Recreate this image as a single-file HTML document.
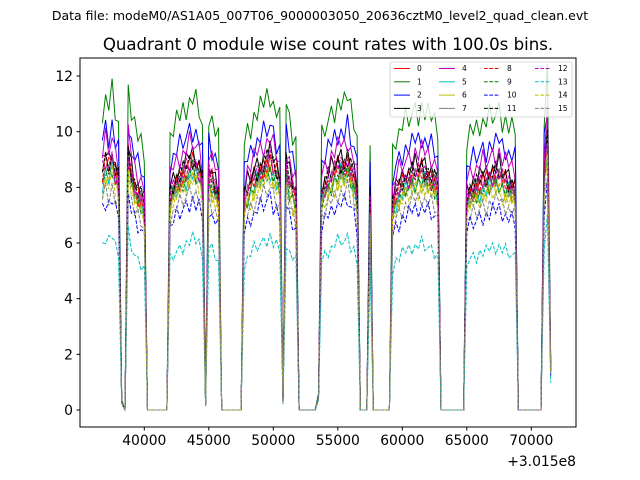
<!DOCTYPE html>
<html><head><meta charset="utf-8"><style>
body{margin:0;background:#fff;}
svg{display:block;font-family:"DejaVu Sans","Liberation Sans",sans-serif;}
</style></head><body>
<svg id="chart" width="640" height="480" viewBox="0 0 640 480">
<rect width="640" height="480" fill="#fff"/>
<text x="320" y="20" font-size="12.5" text-anchor="middle">Data file: modeM0/AS1A05_007T06_9000003050_20636cztM0_level2_quad_clean.evt</text>
<text x="328" y="50" font-size="16.6" text-anchor="middle">Quadrant 0 module wise count rates with 100.0s bins.</text>
<g id="series"></g>
<rect x="80" y="58" width="496" height="369" fill="none" stroke="#000" stroke-width="1"/>
<g id="xticks"></g>
<g id="yticks"></g>
<text x="576" y="466" font-size="13.9" text-anchor="end">+3.015e8</text>
<g id="legend"></g>
</svg>
<script>
const t0 = 36750, step = 250;
const baseLevel = [8.8,9.2,9.0,9.3,8.8,8.5,0.3,0,9.4,8.8,8.3,8.0,7.9,7.6,
0,0,0,0,0,0,0,
8.0,8.3,8.5,8.6,8.8,8.9,9.1,9.2,9.0,8.9,8.4,0.2,8.8,8.5,8.3,8.0,
0,0,0,0,0,0,0,
7.8,8.2,8.4,8.6,8.8,8.9,9.0,9.2,9.3,9.0,8.8,8.5,0.3,9.0,8.5,8.2,7.9,
0,0,0,0,0,0,0.5,
8.0,8.3,8.5,8.7,8.9,9.0,9.1,9.0,9.2,8.9,8.6,8.0,
0,0,0,7.8,0,0,0,0,0,0,
7.6,8.0,8.2,8.4,8.5,8.6,8.7,8.8,8.8,8.9,8.8,8.7,8.6,8.5,8.3,
0,0,0,0,0,0,0,0,
7.9,8.1,8.2,8.3,8.4,8.5,8.5,8.6,8.7,8.7,8.8,8.6,8.5,8.4,8.3,8.2,
0,0,0,0,0,0,0,0,
8.8,10.0,1.5];
const channelFactor = [0.97,1.22,1.1,1.0,1.05,0.93,0.92,0.95,0.96,0.93,0.82,0.98,0.97,0.67,0.9,0.86];
const jitter = [0.02,-0.03,0.04,-0.01,0.03,-0.04,0.01,-0.02,0.05,-0.03,0.0,0.03,-0.05];
const channels = ["0","1","2","3","4","5","6","7","8","9","10","11","12","13","14","15"];
const colors = ["#ff0000","#008000","#0000ff","#000000","#bf00bf","#00bfbf","#bfbf00","#808080","#ff0000","#008000","#0000ff","#000000","#bf00bf","#00bfbf","#bfbf00","#808080"];
const xTicks = [40000,45000,50000,55000,60000,65000,70000];
const yTicks = [0,2,4,6,8,10,12];

const NS="http://www.w3.org/2000/svg";
const xs = v => 144.3 + (v-40000)*0.0129;
const ys = v => 410 - v*27.83;
function mk(tag, attrs){const e=document.createElementNS(NS,tag);for(const k in attrs)e.setAttribute(k,attrs[k]);return e;}

const sg=document.getElementById('series');
channels.forEach((ch,c)=>{
  let pts=baseLevel.map((b,i)=>{
    const v=b*channelFactor[c]*(1+jitter[(i+c*5)%jitter.length]);
    return xs(t0+i*step).toFixed(1)+","+ys(v).toFixed(1);
  }).join(" ");
  const p=mk('polyline',{points:pts,fill:'none',stroke:colors[c],'stroke-width':1});
  if(c>=8)p.setAttribute('stroke-dasharray','3.7,1.6');
  
  
  sg.appendChild(p);
});

const xg=document.getElementById('xticks');
xTicks.forEach(v=>{
  const x=xs(v);
  const l=mk('line',{x1:x,x2:x,y1:427,y2:430.5,stroke:'#000'});
  
  
  xg.appendChild(l);
  const t=mk('text',{x:x,y:445,'font-size':13.9,'text-anchor':'middle'});
  
  
  t.textContent=v;xg.appendChild(t);
});
const yg=document.getElementById('yticks');
yTicks.forEach(v=>{
  const y=ys(v);
  const l=mk('line',{x1:76.5,x2:80,y1:y,y2:y,stroke:'#000'});
  
  
  yg.appendChild(l);
  const t=mk('text',{x:73,y:y+5,'font-size':13.9,'text-anchor':'end'});
  
  
  t.textContent=v;yg.appendChild(t);
});

const lg=document.getElementById('legend');
const box=mk('rect',{x:390,y:62,width:182,height:55,rx:2,fill:'#fff','fill-opacity':0.8,stroke:'#ccc','stroke-width':0.8});


lg.appendChild(box);
channels.forEach((ch,c)=>{
  const col=Math.floor(c/4), row=c%4;
  const lx=[394,439,484,535][col], y=68.5+row*13.3;
  const l=mk('line',{x1:lx,x2:lx+16,y1:y,y2:y,stroke:colors[c],'stroke-width':1});
  if(c>=8)l.setAttribute('stroke-dasharray','3.7,1.6');
  
  
  lg.appendChild(l);
  const t=mk('text',{x:lx+23,y:y+2.5,'font-size':7.5});
  
  
  t.textContent=ch;lg.appendChild(t);
});
</script>
</body></html>
